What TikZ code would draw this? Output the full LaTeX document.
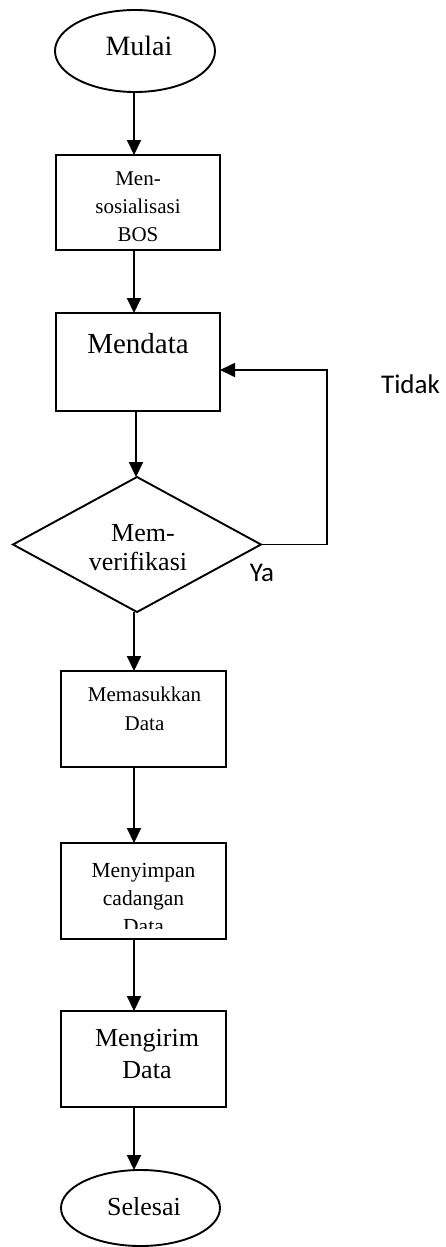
\documentclass[tikz,border=0pt]{standalone}
\usepackage{fontspec}
\setmainfont{Liberation Serif}
\newfontfamily\calib{Carlito}
\usetikzlibrary{arrows.meta,shapes.geometric,calc}
\begin{document}
\begin{tikzpicture}[x=1pt,y=-1pt,
  shp/.style={draw, line width=1.9pt, inner sep=0pt, outer sep=0pt},
  stepbox/.style={shp, rectangle, minimum width=165pt, minimum height=96pt},
  term/.style={shp, ellipse, minimum width=160pt, minimum height=80pt},
  dec/.style={shp, diamond, minimum width=248pt, minimum height=135pt},
  arr/.style={line width=2pt, -{Triangle[length=15pt,width=14pt]}},
  lbl/.style={anchor=base, inner sep=0pt, outer sep=0pt},
  sanslbl/.style={lbl, font=\calib\fontsize{27}{32}\selectfont}]
\useasboundingbox (0,0) rectangle (446,1247);
% shapes
\node[term, minimum height=82pt] (mulai) at (135,51) {};
\node[stepbox, minimum width=164pt, minimum height=95pt] (sos) at (138,202.5) {};
\node[stepbox, minimum width=164pt, minimum height=98pt] (mendata) at (138,362) {};
\node[dec] (dia) at (137,544.5) {};
\node[stepbox] (masuk) at (143.5,719) {};
\node[stepbox] (simpan) at (143.5,891) {};
\node[stepbox] (kirim) at (143.5,1059) {};
\node[term, minimum width=159pt, minimum height=76pt] (selesai) at (140.5,1208) {};
% texts
\node[lbl, font=\fontsize{28}{34}\selectfont] (tmulai) at (139,56) {Mulai};
\begin{scope}
  \clip (sos.north west) rectangle ($(sos.south east)+(0,-9)$);
  \node[lbl, font=\fontsize{21}{28}\selectfont] (tsos) at (138,185)
    {\begin{tabular}[t]{@{}c@{}}Men-\\sosialisasi\\BOS\end{tabular}};
\end{scope}
\node[lbl, font=\fontsize{29}{34}\selectfont] (tmendata) at (138,353) {Mendata};
\node[lbl, font=\fontsize{26}{29}\selectfont] (tmem) at (143,541) {Mem-};
\node[lbl, font=\fontsize{26}{29}\selectfont] (tver) at (138,570) {verifikasi};
\node[lbl, font=\fontsize{21}{29}\selectfont] (tmasuk) at (144.5,701)
  {\begin{tabular}[t]{@{}c@{}}Memasukkan\\Data\end{tabular}};
\begin{scope}
  \clip (simpan.north west) rectangle ($(simpan.south east)+(0,-11)$);
  \node[lbl, font=\fontsize{21.5}{28}\selectfont] (tsimpan) at (143.5,877)
    {\begin{tabular}[t]{@{}c@{}}Menyimpan\\cadangan\\Data\end{tabular}};
\end{scope}
\node[lbl, font=\fontsize{26}{32}\selectfont] (tkirim) at (147,1046)
  {\begin{tabular}[t]{@{}c@{}}Mengirim\\Data\end{tabular}};
\node[lbl, font=\fontsize{26}{30}\selectfont] (tselesai) at (144,1215) {Selesai};
\node[sanslbl] (tidak) at (410.5,393) {Tidak};
\node[sanslbl] (ya) at (262,581) {Ya};
% connectors
\coordinate (ax) at (134,0);
\coordinate (ax2) at (136,0);
\coordinate (lp) at (327,370);
\draw[arr] (mulai.south -| ax) -- (sos.north -| ax);
\draw[arr] (sos.south -| ax) -- (mendata.north -| ax);
\draw[arr] (mendata.south -| ax2) -- (dia.north -| ax2);
\draw[arr] (dia.south -| ax) -- (masuk.north -| ax);
\draw[arr] (masuk.south -| ax) -- (simpan.north -| ax);
\draw[arr] (simpan.south -| ax) -- (kirim.north -| ax);
\draw[arr] (kirim.south -| ax) -- (selesai.north -| ax);
\draw[arr, line width=1.7pt] (dia.east) -| (lp) -- (mendata.east |- lp);
\end{tikzpicture}
\end{document}
